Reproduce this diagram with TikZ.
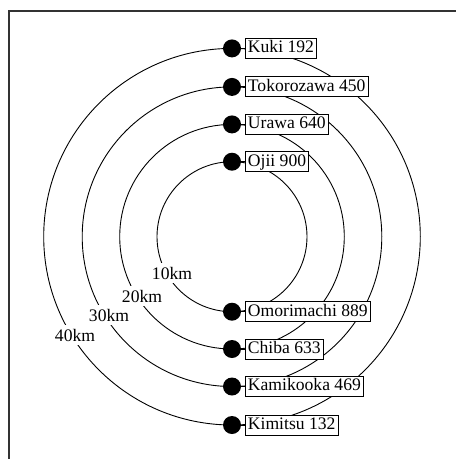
\documentclass[tikz,border=0pt]{standalone}
\usepackage{fontspec}
\setmainfont{Liberation Serif}
\begin{document}
\begin{tikzpicture}[x=1pt,y=1pt,
  ring/.style={line width=0.9pt},
  dotnode/.style={circle,fill=black,inner sep=0pt,minimum size=18pt},
  station/.style={draw,fill=white,line width=0.9pt,anchor=west,inner xsep=2.5pt,inner ysep=1.5pt,
    text height=12.8pt,text depth=4.2pt,font=\fontsize{17.6}{20}\selectfont},
  kmlabel/.style={fill=white,inner sep=3.5pt,font=\fontsize{17.6}{20}\selectfont},
  link/.style={line width=0.9pt}]
\useasboundingbox (0,0) rectangle (456,-459);
\clip (0,0) rectangle (456,-459);
\draw[line width=2pt,black!80] (8.5,-480) |- (480,-10.5);
\coordinate (C) at (232,-236.7);
\foreach \r in {75,112.3,149.8,188.3} \draw[ring] (C) circle[radius=\r];
% km labels
\node[kmlabel] (k10) at (172,-273) {10km};
\node[kmlabel] (k20) at (142,-296) {20km};
\node[kmlabel] (k30) at (109,-315) {30km};
\node[kmlabel] (k40) at (75,-335) {40km};
% stations
\foreach \nm/\yy/\txt in {ku/48.4/{Kuki 192},to/86.9/{Tokorozawa 450},ur/124.4/{Urawa 640},oj/161.7/{Ojii 900},
  om/311.7/{Omorimachi 889},ch/349/{Chiba 633},ka/386.5/{Kamikooka 469},ki/425/{Kimitsu 132}}{
  \node[station] (b\nm) at (245,-\yy) {\txt};
  \node[dotnode] (d\nm) at (232,-\yy) {};
  \draw[link] (d\nm) -- (b\nm);
}
\end{tikzpicture}
\end{document}
